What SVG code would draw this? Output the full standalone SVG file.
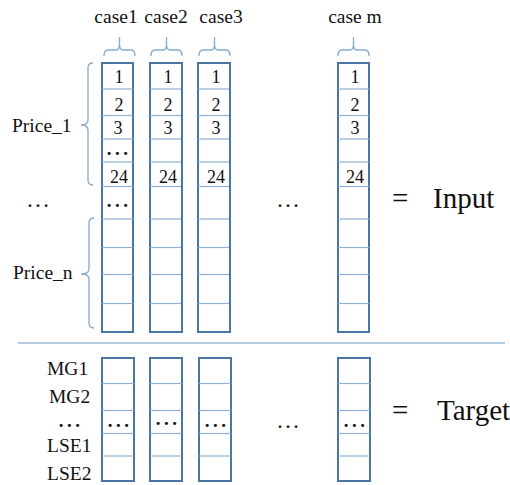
<svg xmlns="http://www.w3.org/2000/svg" width="510" height="485" viewBox="0 0 510 485">
<style>
text{font-family:"Liberation Serif","Times New Roman",serif;fill:#111}
.lbl{font-size:19.5px}
.num{font-size:18px;text-anchor:middle}
.big{font-size:29px}
.dots{font-size:19px;font-weight:bold;letter-spacing:3.5px;text-anchor:middle}
.ldots{font-size:24px;text-anchor:middle}
.col{fill:#fff;stroke:#4a76a6;stroke-width:2}
.row{stroke:#8fb0d2;stroke-width:1.2}
.brace{fill:none;stroke:#86aacd;stroke-width:1.3}
.sep{stroke:#9dbbd9;stroke-width:1.3}
</style>
<defs>
<g id="rowsTop" class="row">
<line x1="0" y1="89" x2="31" y2="89"/><line x1="0" y1="115.5" x2="31" y2="115.5"/><line x1="0" y1="139" x2="31" y2="139"/><line x1="0" y1="162" x2="31" y2="162"/><line x1="0" y1="186.5" x2="31" y2="186.5"/><line x1="0" y1="219" x2="31" y2="219"/><line x1="0" y1="247.5" x2="31" y2="247.5"/><line x1="0" y1="274.5" x2="31" y2="274.5"/><line x1="0" y1="303.5" x2="31" y2="303.5"/>
</g>
<g id="rowsBot" class="row">
<line x1="0" y1="383.5" x2="32" y2="383.5"/><line x1="0" y1="410.5" x2="32" y2="410.5"/><line x1="0" y1="433.5" x2="32" y2="433.5"/><line x1="0" y1="456" x2="32" y2="456"/>
</g>
<path id="topBrace" class="brace" d="M0,56 Q0,50 4,50 L12,50 Q15.5,50 15.5,44 L15.5,37 M15.5,44 Q15.5,50 19,50 L27,50 Q31,50 31,56"/>
</defs>

<g id="headers">
<text class="lbl" x="116" y="23" text-anchor="middle">case1</text>
<text class="lbl" x="166" y="23" text-anchor="middle">case2</text>
<text class="lbl" x="221" y="23" text-anchor="middle">case3</text>
<text class="lbl" x="355" y="23" text-anchor="middle">case m</text>
<use href="#topBrace" x="104"/>
<use href="#topBrace" x="151"/>
<use href="#topBrace" x="199"/>
<use href="#topBrace" x="338"/>
</g>

<g id="left-labels">
<text class="lbl" x="12" y="132">Price_1</text>
<path class="brace" d="M93,63 Q88,63 88,68 L88,120 Q88,125 81,125 Q88,125 88,130 L88,180 Q88,185 93,185"/>
<text class="ldots" x="38" y="207">…</text>
<text class="lbl" x="13" y="279">Price_n</text>
<path class="brace" d="M94,218 Q89,218 89,223 L89,269 Q89,274 81,274 Q89,274 89,279 L89,323 Q89,328 94,328"/>
</g>

<g id="input-case1">
<rect class="col" x="102" y="63" width="31" height="269"/>
<use href="#rowsTop" x="102"/>
<text class="num" x="119" y="83">1</text>
<text class="num" x="119" y="111">2</text>
<text class="num" x="118" y="134">3</text>
<text class="dots" x="119" y="155">...</text>
<text class="num" x="119" y="183">24</text>
<text class="dots" x="119" y="207">...</text>
</g>
<g id="input-case2">
<rect class="col" x="150" y="63" width="32" height="269"/>
<use href="#rowsTop" x="150"/>
<text class="num" x="168" y="83">1</text>
<text class="num" x="168" y="111">2</text>
<text class="num" x="168" y="134">3</text>
<text class="num" x="168" y="183">24</text>
</g>
<g id="input-case3">
<rect class="col" x="198" y="63" width="32" height="269"/>
<use href="#rowsTop" x="198"/>
<text class="num" x="216" y="83">1</text>
<text class="num" x="216" y="111">2</text>
<text class="num" x="216" y="134">3</text>
<text class="num" x="216" y="183">24</text>
</g>
<text class="ldots" x="288" y="207">…</text>
<g id="input-casem">
<rect class="col" x="338" y="63" width="31" height="269"/>
<use href="#rowsTop" x="338"/>
<text class="num" x="355" y="83">1</text>
<text class="num" x="355" y="111">2</text>
<text class="num" x="355" y="134">3</text>
<text class="num" x="355" y="183">24</text>
</g>
<g id="input-label">
<text class="big" x="392" y="208">=</text>
<text class="big" x="433" y="208">Input</text>
</g>

<line id="separator" class="sep" x1="18" y1="343" x2="505" y2="343"/>

<g id="target-labels">
<text class="lbl" x="47" y="375">MG1</text>
<text class="lbl" x="49" y="403">MG2</text>
<text class="dots" x="71" y="427">...</text>
<text class="lbl" x="47" y="452">LSE1</text>
<text class="lbl" x="47" y="480">LSE2</text>
</g>

<g id="target-case1">
<rect class="col" x="102" y="358" width="32" height="123"/>
<use href="#rowsBot" x="102"/>
<text class="dots" x="120" y="427">...</text>
</g>
<g id="target-case2">
<rect class="col" x="150" y="358" width="32" height="123"/>
<use href="#rowsBot" x="150"/>
<text class="dots" x="168" y="425">...</text>
</g>
<g id="target-case3">
<rect class="col" x="199" y="358" width="32" height="123"/>
<use href="#rowsBot" x="199"/>
<text class="dots" x="217" y="427">...</text>
</g>
<text class="ldots" x="288" y="428">…</text>
<g id="target-casem">
<rect class="col" x="338" y="358" width="32" height="123"/>
<use href="#rowsBot" x="338"/>
<text class="dots" x="356" y="427">...</text>
</g>
<g id="target-label">
<text class="big" x="392" y="420">=</text>
<text class="big" x="437" y="420">Target</text>
</g>
</svg>
